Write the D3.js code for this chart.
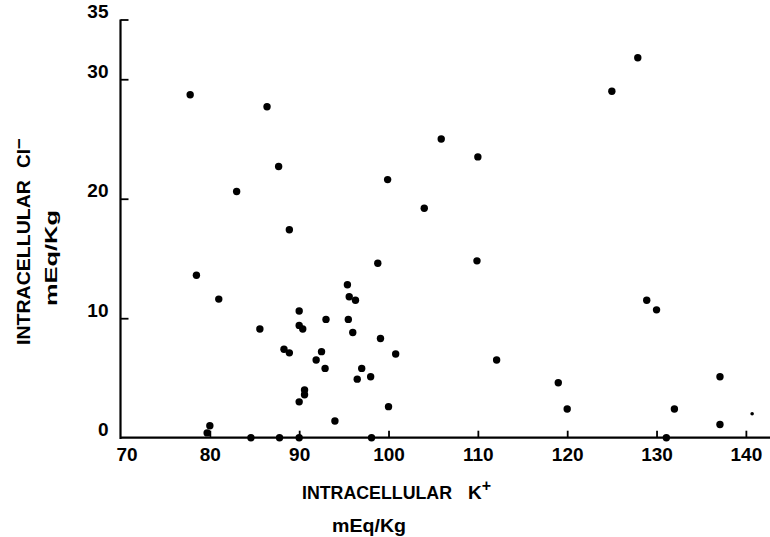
<!DOCTYPE html>
<html>
<head>
<meta charset="utf-8">
<script src="https://cdn.jsdelivr.net/npm/d3@7"></script>
<style>
  body { margin: 0; background: #fff; overflow: hidden; }
  svg { display: block; }
  text { font-family: "Liberation Sans", Arial, sans-serif; fill: #000; }
</style>
</head>
<body>
<svg id="chart"></svg>
<script>
// intracellular K+ (x) and Cl- (y), mEq/Kg
const kValues = [77.8, 86.4, 87.7, 83.0, 88.9, 78.5, 98.8, 127.9, 125.0, 105.9,
    110.0, 99.9, 104.0, 109.9, 81.0, 85.6, 80.0, 79.7, 84.6, 90.0,
    90.0, 90.4, 93.0, 88.3, 88.9, 92.5, 91.9, 92.9, 90.6, 90.6,
    90.0, 94.0, 87.8, 90.0, 95.4, 95.6, 96.3, 95.5, 96.0, 99.1,
    100.8, 97.0, 96.5, 98.0, 100.0, 98.1, 112.1, 128.9, 130.0, 119.0,
    120.0, 137.1, 132.0, 137.1, 131.1];
const clValues = [28.7, 27.7, 22.7, 20.6, 17.4, 13.6, 14.6, 31.8, 29.0, 25.0,
    23.5, 21.6, 19.2, 14.8, 11.6, 9.1, 1.0, 0.4, 0, 10.6,
    9.4, 9.1, 9.9, 7.4, 7.1, 7.2, 6.5, 5.8, 4.0, 3.6,
    3.0, 1.4, 0, 0, 12.8, 11.8, 11.5, 9.9, 8.8, 8.3,
    7.0, 5.8, 4.9, 5.1, 2.6, 0, 6.5, 11.5, 10.7, 4.6,
    2.4, 5.1, 2.4, 1.1, 0];
// half-printed dot at the right edge
const faintK = [140.7];
const faintCl = [2.0];

const xTicks = [70, 80, 90, 100, 110, 120, 130, 140];
const yTicks = [0, 10, 20, 30, 35];

const width = 770, height = 537;
const svg = d3.select("#chart").attr("width", width).attr("height", height);

const x = d3.scaleLinear().domain([70, 142.7]).range([120.5, 770]);
const y = d3.scaleLinear().domain([0, 35]).range([437.7, 19.5]);

// x axis, ticks pointing up
const xAxis = d3.axisBottom(x)
    .tickValues(xTicks)
    .tickSize(-7)
    .tickPadding(10)
    .tickFormat(d3.format("d"));

const gx = svg.append("g")
    .attr("transform", "translate(0," + y(0) + ")")
    .call(xAxis);
gx.select(".domain").attr("stroke-width", 2.2).attr("d", "M120,0H770");
gx.selectAll(".tick line").attr("stroke-width", 1.8)
    .filter(d => d === 70).remove();
gx.selectAll(".tick text")
    .style("font-size", "19px")
    .style("font-weight", "bold")
    .attr("dx", d => d === 70 ? 6 : 0);

// y axis, ticks pointing right
const yAxis = d3.axisLeft(y)
    .tickValues(yTicks)
    .tickSize(-8)
    .tickPadding(12)
    .tickFormat(d3.format("d"));

const gy = svg.append("g")
    .attr("transform", "translate(" + x(70) + ",0)")
    .call(yAxis);
gy.select(".domain").attr("stroke-width", 2.2).attr("d", "M0,439V19.5");
gy.selectAll(".tick line").attr("stroke-width", 1.8)
    .filter(d => d === 0).remove();
gy.selectAll(".tick text")
    .style("font-size", "19px")
    .style("font-weight", "bold")
    .attr("dy", "-0.1em");

// points
svg.append("g")
    .selectAll("circle")
    .data(kValues.map((k, i) => ({k: k, cl: clValues[i]})))
    .enter().append("circle")
    .attr("cx", d => x(d.k))
    .attr("cy", d => y(d.cl))
    .attr("r", 3.7)
    .attr("fill", "#000");

svg.append("g")
    .selectAll("circle")
    .data(faintK.map((k, i) => ({k: k, cl: faintCl[i]})))
    .enter().append("circle")
    .attr("cx", d => x(d.k))
    .attr("cy", d => y(d.cl))
    .attr("r", 1.8)
    .attr("fill", "#000");

// axis titles
svg.append("text")
    .attr("x", 302).attr("y", 499)
    .style("font-size", "18px")
    .style("font-weight", "bold")
    .attr("textLength", 150)
    .attr("lengthAdjust", "spacingAndGlyphs")
    .text("INTRACELLULAR");

svg.append("text")
    .attr("x", 468).attr("y", 499)
    .style("font-size", "19px")
    .style("font-weight", "bold")
    .text("K")
    .append("tspan")
    .attr("dy", -8).style("font-size", "16px")
    .text("+");

svg.append("text")
    .attr("x", 332).attr("y", 532)
    .style("font-size", "18px")
    .style("font-weight", "bold")
    .attr("textLength", 74)
    .attr("lengthAdjust", "spacingAndGlyphs")
    .text("mEq/Kg");

svg.append("text")
    .attr("transform", "translate(30,345) rotate(-90)")
    .style("font-size", "19px")
    .style("font-weight", "bold")
    .attr("textLength", 165)
    .attr("lengthAdjust", "spacingAndGlyphs")
    .text("INTRACELLULAR");

svg.append("text")
    .attr("transform", "translate(30,168) rotate(-90)")
    .style("font-size", "19px")
    .style("font-weight", "bold")
    .text("Cl")
    .append("tspan")
    .attr("dy", -6)
    .text("\u2013");

svg.append("text")
    .attr("transform", "translate(57,306) rotate(-90)")
    .style("font-size", "17px")
    .style("font-weight", "bold")
    .attr("textLength", 96)
    .attr("lengthAdjust", "spacingAndGlyphs")
    .text("mEq/Kg");
</script>
</body>
</html>
